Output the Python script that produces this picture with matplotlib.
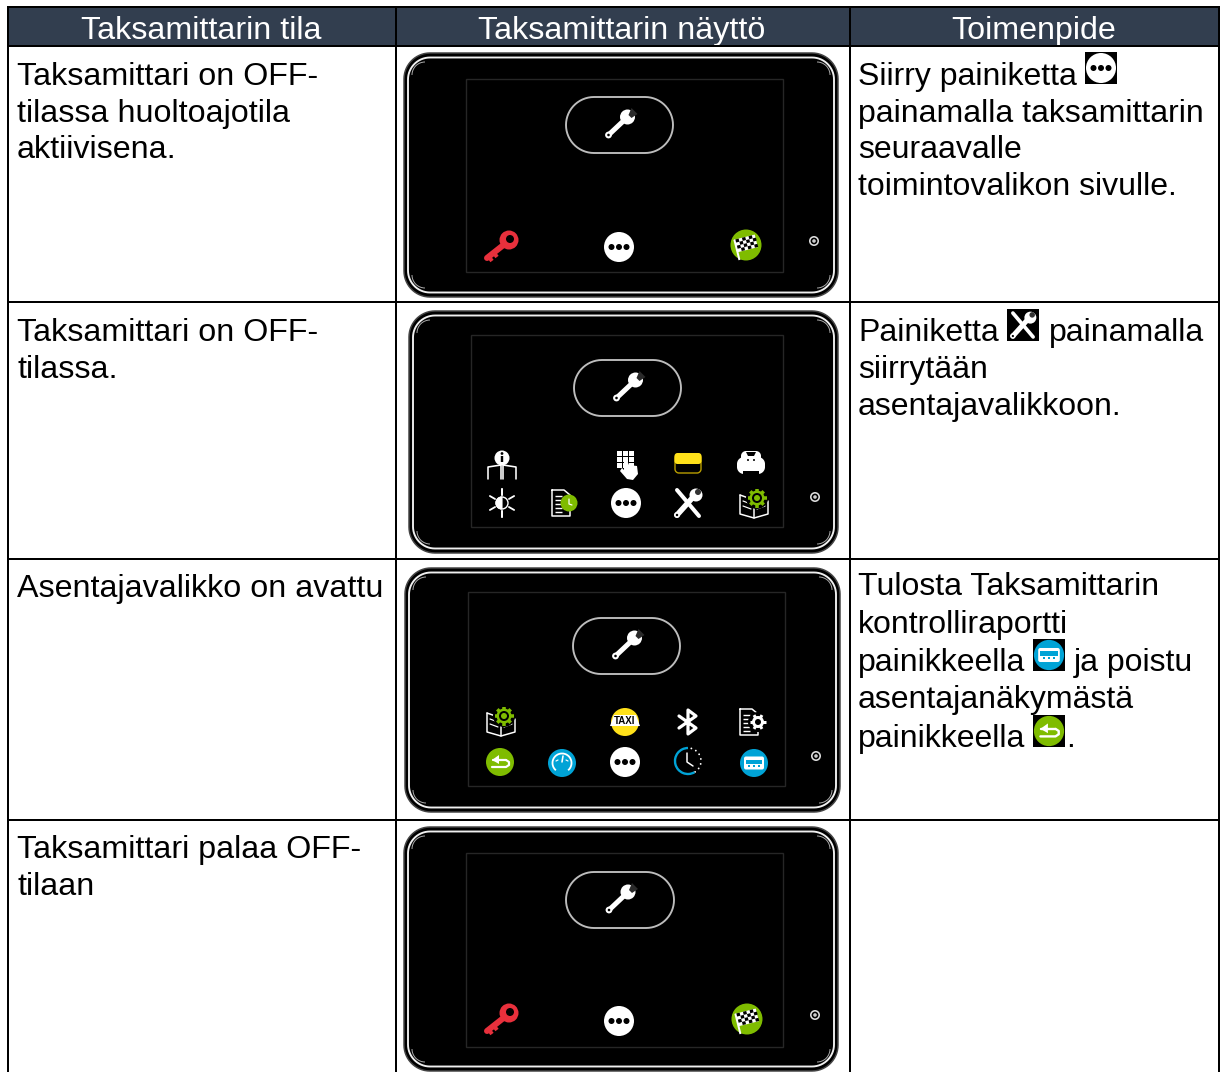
import numpy as np
import matplotlib
matplotlib.use("Agg")
import matplotlib.pyplot as plt
from matplotlib.patches import Circle, Polygon, Rectangle, Wedge, Arc

plt.rcParams['font.family'] = ['Liberation Sans', 'DejaVu Sans']

# table contents
headers = ["Taksamittarin tila", "Taksamittarin näyttö", "Toimenpide"]
state_lines = [
    ["Taksamittari on OFF-", "tilassa huoltoajotila", "aktiivisena."],
    ["Taksamittari on OFF-", "tilassa."],
    ["Asentajavalikko on avattu"],
    ["Taksamittari palaa OFF-", "tilaan"],
]
action_lines = [
    ["Siirry painiketta", "painamalla taksamittarin", "seuraavalle", "toimintovalikon sivulle."],
    ["Painiketta", "siirrytään", "asentajavalikkoon."],
    ["Tulosta Taksamittarin", "kontrolliraportti", "painikkeella", "asentajanäkymästä", "painikkeella"],
    [],
]
screen_icons = [
    ["key", "dots", "flag"],
    ["info", "keypad", "paper", "piggy", "sun", "docclock", "dots", "tools", "bookgear"],
    ["bookgear", "taxi", "bluetooth", "docgear", "back", "gauge", "dots", "clock", "usb"],
    ["key", "dots", "flag"],
]

# layout, in pixels of the picture
W, H = 1220, 1072
PT = 0.72
col_x = [8, 396, 850, 1219]
row_y = [46, 302, 559, 820, 1072]
state_base = [[85, 122, 158], [341, 378], [597], [858, 895]]
action_base = [[85, 122, 158, 195], [341, 378, 415], [595, 633, 671, 708, 747], []]
device_box = [(404, 53, 838, 297), (409, 311, 838, 553), (405, 568, 840, 812), (404, 827, 838, 1071)]
screen_box = [(466, 79, 783, 272), (471, 335, 783, 527), (468, 592, 785, 786), (466, 853, 783, 1047)]
pill_box = [(566, 97, 673, 153), (574, 360, 681, 416), (573, 618, 680, 674), (566, 872, 674, 928)]
led_xy = [(814, 241), (815, 497), (816, 756), (815, 1015)]
icon_xy = [
    [(499, 246), (619, 247), (746, 246)],
    [(502, 465), (628, 464), (688, 463), (751, 463), (502, 503), (563, 503), (626, 503), (688, 503), (754, 504)],
    [(501, 722), (625, 722), (688, 722), (752, 722), (500, 762), (562, 763), (625, 762), (688, 761), (754, 763)],
    [(499, 1019), (619, 1021), (747, 1020)],
]

HEAD = "#323e4f"
GREEN = "#7fbc00"
BLUE = "#00a3d6"
RED = "#e8303c"
YEL = "#ffe11a"

fig = plt.figure(figsize=(W / 100, H / 100), dpi=100)
ax = fig.add_axes([0, 0, 1, 1])
ax.set_xlim(0, W)
ax.set_ylim(H, 0)
ax.axis("off")


def rrect(x0, y0, x1, y1, r, fc="none", ec="none", lw=0, z=3):
    # true circular corners, the fancy box corners look too square here
    t = np.radians(np.arange(0, 91, 6))
    pts = []
    for cx, cy, a in ((x1 - r, y1 - r, 0), (x0 + r, y1 - r, np.pi / 2), (x0 + r, y0 + r, np.pi), (x1 - r, y0 + r, 1.5 * np.pi)):
        pts += list(zip(cx + r * np.cos(t + a), cy + r * np.sin(t + a)))
    ax.add_patch(Polygon(pts, closed=True, fc=fc, ec=ec, lw=lw * PT, zorder=z))


def disc(x, y, r, fc="white", ec="none", lw=0, z=4):
    ax.add_patch(Circle((x, y), r, fc=fc, ec=ec, lw=lw * PT, zorder=z))


def line(xs, ys, c="white", lw=1.5, z=5, cap="round"):
    ax.plot(xs, ys, color=c, lw=lw * PT, zorder=z, solid_capstyle=cap, solid_joinstyle="round")


def poly(pts, fc="white", ec="none", lw=0, z=5):
    ax.add_patch(Polygon(pts, closed=True, fc=fc, ec=ec, lw=lw * PT, zorder=z))


# one function per icon, offsets are for the size used on the screens
def icon_dots(x, y, s=1):
    disc(x, y, 15 * s)
    for d in (-7.5, 0, 7.5):
        disc(x + d * s, y, 3 * s, fc="black", z=5)


def icon_key(x, y, s=1):
    ax.add_patch(Rectangle((x - 16, y - 17), 33, 34, fc="none", ec="#262626", lw=0.7, zorder=3))
    line([x + 7, x - 12], [y - 3, y + 12], c=RED, lw=6)
    line([x - 5, x - 2], [y + 7, y + 11], c=RED, lw=4, cap="butt")
    line([x - 10, x - 7], [y + 11, y + 15], c=RED, lw=4, cap="butt")
    disc(x + 10, y - 6, 9.5, fc=RED)
    disc(x + 11, y - 7, 4, fc="black", z=6)


def icon_flag(x, y, s=1):
    ax.add_patch(Rectangle((x - 15, y - 18), 33, 33, fc="none", ec="#262626", lw=0.7, zorder=3))
    disc(x, y - 1, 15.5, fc=GREEN)
    t = np.radians(-14)
    rot = lambda u, v: (x + u * np.cos(t) - v * np.sin(t), y - 1 + u * np.sin(t) + v * np.cos(t))
    poly([rot(-10, -8), rot(11, -8), rot(11, 5), rot(-10, 5)])
    poly([rot(-11, -8), rot(-9, -8), rot(-9, 13), rot(-11, 13)])
    for i in range(6):
        for j in range(4):
            if (i + j) % 2 == 0:
                u, v = -9 + i * 3.4, -8 + j * 3.2
                poly([rot(u, v), rot(u + 3.4, v), rot(u + 3.4, v + 3.2), rot(u, v + 3.2)], fc="black", z=6)


def icon_info(x, y, s=1):
    disc(x, y - 7, 7.5)
    line([x, x], [y - 9, y - 3], c="black", lw=2.4, z=6, cap="butt")
    disc(x, y - 11.5, 1.4, fc="black", z=6)
    line([x - 14, x - 14, x - 1, x - 1], [y + 14, y + 2, y, y + 14], lw=1.6)
    line([x + 14, x + 14, x + 1, x + 1], [y + 14, y + 2, y, y + 14], lw=1.6)


def icon_keypad(x, y, s=1):
    for i in range(3):
        for j in range(3):
            ax.add_patch(Rectangle((x - 11 + i * 6, y - 13 + j * 6), 4.5, 4.5, fc="white", zorder=5))
    poly([(x - 4, y - 2), (x - 1, y - 4), (x + 1, y + 1), (x + 9, y + 2), (x + 10, y + 10), (x + 5, y + 16),
          (x - 1, y + 15), (x - 8, y + 7), (x - 6, y + 4), (x - 4, y + 6)], z=6)


def icon_paper(x, y, s=1):
    rrect(x - 13, y - 9, x + 13, y + 10, 4, fc="black", ec="#b89d00", lw=1.4, z=4)
    rrect(x - 13.5, y - 10, x + 13.5, y + 1, 3, fc=YEL, z=5)


def icon_piggy(x, y, s=1):
    rrect(x - 14, y - 6, x + 14, y + 11, 7, fc="white", z=4)
    rrect(x - 10, y - 12, x + 10, y + 2, 5, fc="white", z=4)
    poly([(x - 5, y - 11), (x + 5, y - 11), (x + 3, y - 7), (x - 3, y - 7)], fc="black")
    disc(x - 3, y - 3, 1, fc="black", z=6)
    disc(x + 3, y - 3, 1, fc="black", z=6)
    ax.add_patch(Rectangle((x - 8, y + 8), 16, 4, fc="black", zorder=5))


def icon_sun(x, y, s=1):
    ax.add_patch(Wedge((x, y), 6, 90, 270, fc="white", ec="white", lw=0.8, zorder=5))
    ax.add_patch(Circle((x, y), 6, fc="none", ec="white", lw=1, zorder=5))
    for a in np.arange(30, 360, 60):
        t = np.radians(a)
        line([x + 8 * np.cos(t), x + 14 * np.cos(t)], [y + 8 * np.sin(t), y + 14 * np.sin(t)], lw=1.8)
    line([x, x], [y - 14, y - 8], lw=1.8)
    line([x, x], [y + 8, y + 14], lw=1.8)


def doc_outline(x, y):
    line([x - 9, x + 3, x + 9, x + 9, x - 9, x - 9], [y - 13, y - 13, y - 8, y + 13, y + 13, y - 13], lw=1.5)
    for d in (-7, -3, 1, 5, 9):
        line([x - 6, x + 1], [y + d, y + d], lw=1.4, cap="butt")


def icon_docclock(x, y, s=1):
    doc_outline(x - 2, y)
    disc(x + 6, y, 8.5, fc=GREEN, z=6)
    line([x + 6, x + 6, x + 9], [y - 4, y + 1, y + 2], lw=1.2, z=7)


def icon_docgear(x, y, s=1):
    doc_outline(x - 3, y)
    disc(x + 6, y, 10, fc="black", z=6)
    for a in np.arange(0, 360, 60):
        t = np.radians(a)
        line([x + 6, x + 6 + 8 * np.cos(t)], [y, y + 8 * np.sin(t)], lw=3, z=7, cap="butt")
    disc(x + 6, y, 6, z=8)
    disc(x + 6, y, 3, fc="black", z=9)


def icon_tools(x, y, s=1):
    line([x - 11 * s, x + 11 * s], [y - 13 * s, y + 13 * s], lw=4 * s)
    line([x - 11 * s, x + 7 * s], [y + 12 * s, y - 8 * s], lw=5.5 * s)
    disc(x + 8 * s, y - 8 * s, 6.5 * s)
    disc(x + 10 * s, y - 11 * s, 3 * s, fc="#333333", z=6)
    disc(x - 11 * s, y + 12 * s, 3 * s)
    disc(x - 11 * s, y + 12 * s, 1.2 * s, fc="black", z=6)


def icon_bookgear(x, y, s=1):
    line([x - 14, x - 14, x, x + 14, x + 14], [y - 9, y + 10, y + 14, y + 10, y - 3], lw=1.5)
    line([x - 14, x, x], [y - 9, y - 4, y + 14], lw=1.5)
    for d in (2, 7):
        line([x - 11, x - 3], [y - 5 + d, y - 2 + d], lw=1.2)
        line([x + 3, x + 11], [y - 2 + d, y - 5 + d], lw=1.2)
    disc(x + 3, y - 6, 11, fc="black", z=5)
    for a in np.arange(0, 360, 45):
        t = np.radians(a)
        line([x + 3, x + 3 + 9.5 * np.cos(t)], [y - 6, y - 6 + 9.5 * np.sin(t)], c=GREEN, lw=3.5, z=6, cap="butt")
    disc(x + 3, y - 6, 7.5, fc=GREEN, z=7)
    disc(x + 3, y - 6, 5, fc="black", z=8)
    disc(x + 3, y - 6, 3, fc=GREEN, z=9)


def icon_taxi(x, y, s=1):
    disc(x, y, 14, fc=YEL)
    poly([(x - 11, y - 7), (x + 11, y - 7), (x + 15, y + 4), (x - 15, y + 4)], z=5)
    ax.text(x, y - 1.5, "TAXI", color="black", fontsize=7, fontweight="bold", ha="center", va="center", zorder=6)


def icon_bluetooth(x, y, s=1):
    line([x - 9, x + 8, x, x, x + 8, x - 9], [y - 6, y + 6, y + 12, y - 12, y - 6, y + 6], lw=3.2)


def icon_back(x, y, s=1):
    disc(x, y, 14 * s, fc=GREEN)
    line([x - 7 * s, x + 6 * s], [y - 2 * s, y - 2 * s], lw=2.2 * s)
    line([x + 6 * s, x + 9 * s, x + 9 * s, x + 6 * s, x - 8 * s],
         [y - 2 * s, y, y + 3 * s, y + 5 * s, y + 5 * s], lw=2.2 * s)
    poly([(x - 8 * s, y - 2 * s), (x - 1 * s, y - 7 * s), (x - 1 * s, y + 2 * s)], z=6)


def icon_gauge(x, y, s=1):
    disc(x, y, 14, fc=BLUE)
    ax.add_patch(Arc((x, y), 19, 19, theta1=130, theta2=50, ec="white", lw=1.3, zorder=5))
    line([x, x + 1], [y - 1, y - 7], lw=1.6)
    line([x - 6, x - 4], [y - 2, y - 3], lw=1.2)
    line([x + 6, x + 4], [y - 2, y - 3], lw=1.2)


def icon_clock(x, y, s=1):
    ax.add_patch(Arc((x, y), 26, 26, theta1=60, theta2=270, ec=BLUE, lw=1.7, zorder=5))
    for a in np.arange(285, 420, 22):
        t = np.radians(a)
        disc(x + 13 * np.cos(t), y + 13 * np.sin(t), 0.9)
    line([x - 1, x - 1, x + 5], [y - 8, y + 1, y + 5], lw=1.5)


def icon_usb(x, y, s=1):
    disc(x, y, 14 * s, fc=BLUE)
    rrect(x - 10 * s, y - 6.5 * s, x + 10 * s, y + 6.5 * s, 2 * s, fc="white", z=5)
    ax.add_patch(Rectangle((x - 8 * s, y - 3.5 * s), 16 * s, 4 * s, fc=BLUE, zorder=6))
    for d in (-5, 0, 5):
        ax.add_patch(Rectangle((x + (d - 1) * s, y + 2 * s), 2 * s, 1.5 * s, fc=BLUE, zorder=6))


def icon_wrench(x, y, s=1):
    line([x - 12, x + 5], [y + 12, y - 4], lw=5)
    disc(x + 7, y - 6, 7.5)
    poly([(x + 8, y - 8), (x + 11, y - 15), (x + 17, y - 9), (x + 11, y - 5)], fc="#2a2a2a", z=6)
    disc(x - 12, y + 12, 3.4)
    disc(x - 12, y + 12, 1.3, fc="black", z=6)


icon_draw = {"dots": icon_dots, "key": icon_key, "flag": icon_flag, "info": icon_info, "keypad": icon_keypad,
             "paper": icon_paper, "piggy": icon_piggy, "sun": icon_sun, "docclock": icon_docclock,
             "tools": icon_tools, "bookgear": icon_bookgear, "taxi": icon_taxi, "bluetooth": icon_bluetooth,
             "docgear": icon_docgear, "back": icon_back, "gauge": icon_gauge, "clock": icon_clock, "usb": icon_usb}


def draw_device(box, screen, pill, led):
    x0, y0, x1, y1 = box
    rrect(x0, y0, x1, y1, 26, fc="black", ec="#444444", lw=1.5)
    rrect(x0 + 4, y0 + 4.5, x1 - 4, y1 - 4.5, 22, ec="#f0f0f0", lw=1.9, z=4)
    # thin corner marks inside the bezel
    r = 13
    for cx, cy, a in ((x0 + 8 + r, y0 + 9 + r, 180), (x1 - 8 - r, y0 + 9 + r, 270),
                      (x1 - 8 - r, y1 - 9 - r, 0), (x0 + 8 + r, y1 - 9 - r, 90)):
        ax.add_patch(Arc((cx, cy), 2 * r, 2 * r, theta1=a, theta2=a + 90, ec="#aaaaaa", lw=0.7, zorder=4))
    ax.add_patch(Rectangle((screen[0], screen[1]), screen[2] - screen[0], screen[3] - screen[1],
                           fc="black", ec="#262626", lw=1.0, zorder=4))
    h = pill[3] - pill[1]
    rrect(pill[0], pill[1], pill[2], pill[3], h / 2, ec="#bdbdbd", lw=1.9, z=5)
    icon_wrench((pill[0] + pill[2]) / 2 + 1, (pill[1] + pill[3]) / 2 - 2)
    disc(led[0], led[1], 4.2, fc="black", ec="#dddddd", lw=1.6)
    disc(led[0], led[1], 1.8, fc="#cccccc", z=5)


# the small icons sitting in the text of the last column
def draw_inline_icons():
    for name, x0, y0, s in (("dots", 1085, 52, 1.0), ("tools", 1007, 309, 0.92),
                            ("usb", 1033, 639, 1.08), ("back", 1033, 715, 1.08)):
        ax.add_patch(Rectangle((x0, y0), 32, 32, fc="black", zorder=3.5))
        icon_draw[name](x0 + 16, y0 + 16, s)


# header band and grid
ax.add_patch(Rectangle((col_x[0], 8), col_x[3] - col_x[0], row_y[0] - 8, fc=HEAD, zorder=1))
for i, name in enumerate(headers):
    ax.text((col_x[i] + col_x[i + 1]) / 2 - 1, 39, name, color="white", fontsize=23.2,
            ha="center", va="baseline", zorder=2)
ax.plot([col_x[0], col_x[3]], [7, 7], color="black", lw=2 * PT, zorder=2)
for y in row_y[:-1]:
    ax.plot([col_x[0], col_x[3]], [y, y], color="black", lw=2 * PT, zorder=2)
for x in col_x:
    ax.plot([x, x], [7, H], color="black", lw=2 * PT, zorder=2)

for r in range(4):
    for txt, y in zip(state_lines[r], state_base[r]):
        ax.text(17, y, txt, fontsize=23.2, color="black", va="baseline", zorder=7)
    for txt, y in zip(action_lines[r], action_base[r]):
        ax.text(858, y, txt, fontsize=23.0, color="black", va="baseline", zorder=7)
    draw_device(device_box[r], screen_box[r], pill_box[r], led_xy[r])
    for name, (x, y) in zip(screen_icons[r], icon_xy[r]):
        icon_draw[name](x, y)

draw_inline_icons()
ax.text(1049, 341, "painamalla", fontsize=23.0, va="baseline", zorder=7)
ax.text(1074, 671, "ja poistu", fontsize=23.0, va="baseline", zorder=7)
ax.text(1066, 747, ".", fontsize=23.0, va="baseline", zorder=7)

fig.savefig("out.png", dpi=100)
